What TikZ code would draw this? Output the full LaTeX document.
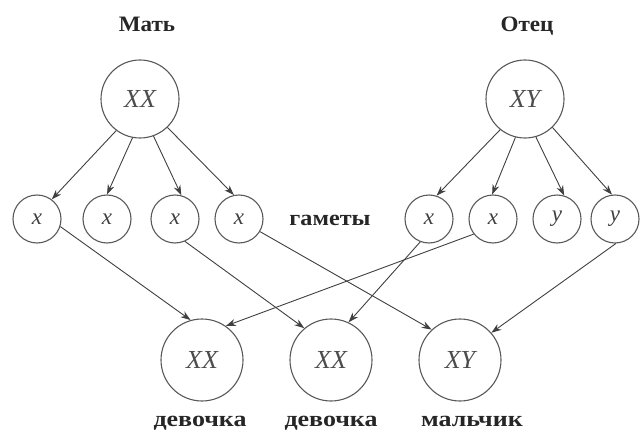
\documentclass[tikz,border=0pt]{standalone}
\usepackage{fontspec}
\setmainfont{Liberation Serif}
\usetikzlibrary{arrows.meta}
\begin{document}
\begin{tikzpicture}[x=1pt,y=-1pt,
  big/.style={circle,draw=black!65,line width=1.1pt,minimum size=78pt,inner sep=0pt,
    font=\fontsize{26}{28}\selectfont\itshape,text=black!70},
  kid/.style={big,minimum size=82pt},
  gam/.style={circle,draw=black!65,line width=1.1pt,minimum size=48pt,inner sep=0pt,
    font=\fontsize{23}{25}\selectfont\itshape,text=black!75},
  lab/.style={anchor=base,font=\fontsize{22}{24}\selectfont\bfseries,text=black!85},
  arr/.style={draw=black!75,line width=0.9pt,-{Stealth[length=10pt,width=7pt]}}]
\useasboundingbox (0,0) rectangle (640,433);
% parents
\node[big] (m) at (140,99) {XX};
\node[big] (f) at (525,99) {XY};
\node[lab] (ml) at (147,32) {\scalebox{1.05}[1]{Мать}};
\node[lab] (fl) at (527,32) {\scalebox{1.05}[1]{Отец}};
% gametes
\node[gam] (g1) at (37,219) {x};
\node[gam] (g2) at (107,219) {x};
\node[gam] (g3) at (175,219) {x};
\node[gam] (g4) at (239,219) {x};
\node[gam] (g5) at (429,219) {x};
\node[gam] (g6) at (493,219) {x};
\node[gam] (g7) at (557,219) {y};
\node[gam] (g8) at (615,219) {y};
\node[lab] (gl) at (330,225) {\scalebox{1.1}[1]{гаметы}};
% children
\node[kid] (c1) at (202,360) {XX};
\node[kid] (c2) at (331,360) {XX};
\node[kid] (c3) at (460,360) {XY};
\node[lab] (c1l) at (200,426) {\scalebox{1.18}[1]{девочка}};
\node[lab] (c2l) at (331,426) {\scalebox{1.18}[1]{девочка}};
\node[lab] (c3l) at (472,426) {\scalebox{1.18}[1]{мальчик}};
% mother to gametes
\draw[arr] (m.-127) -- (g1.53);
\draw[arr] (m.-101) -- (g2.90);
\draw[arr] (m.-70) -- (g3.75);
\draw[arr] (m.-46) -- (g4.102);
% father to gametes
\draw[arr] (f.-129) -- (g5.72);
\draw[arr] (f.-104) -- (g6.92);
\draw[arr] (f.-74) -- (g7.73);
\draw[arr] (f.-46) -- (g8.97);
% gametes to children
\draw[arr] (g1.-18) -- (c1.106);
\draw[arr] (g3.-66) -- (c2.130);
\draw[arr] (g4.-31) -- (c3.133);
\draw[arr] (g5.-111) -- (c2.65);
\draw[arr] (g6.-142) -- (c1.55);
\draw[arr] (g8.-88) -- (c3.41);
\end{tikzpicture}
\end{document}
